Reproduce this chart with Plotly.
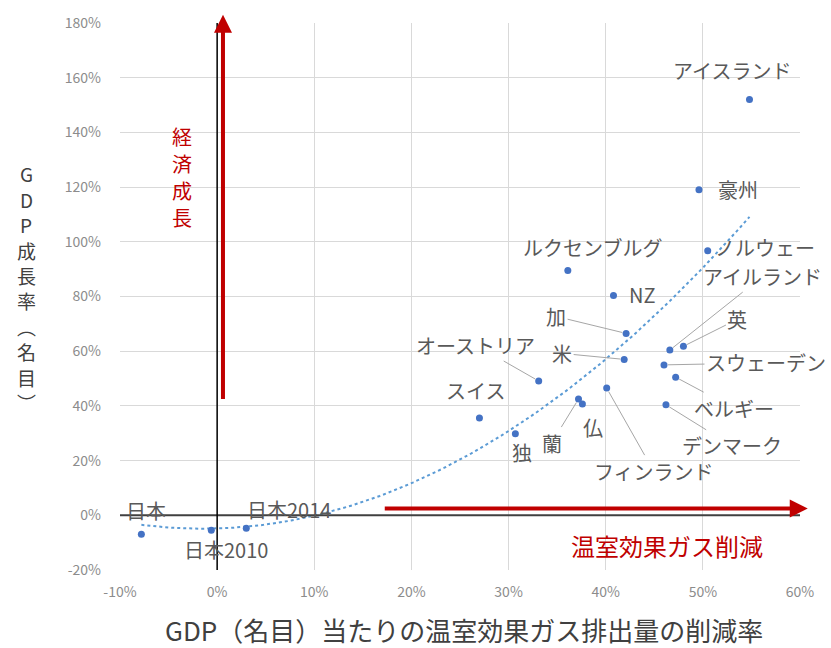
import numpy as np
import plotly.graph_objects as go

# ---- data ----
countries = ["アイスランド", "豪州", "ノルウェー", "ルクセンブルグ", "NZ", "加", "米", "英",
             "アイルランド", "スウェーデン", "ベルギー", "デンマーク", "フィンランド", "蘭", "仏",
             "オーストリア", "スイス", "独", "日本", "日本2010", "日本2014"]
ghg_reduction = [54.8, 49.6, 50.5, 36.1, 40.8, 42.1, 41.9, 48.0,
                 46.6, 46.0, 47.2, 46.2, 40.1, 37.2, 37.6,
                 33.1, 27.0, 30.7, -7.8, -0.6, 3.0]
gdp_growth = [152.0, 119.0, 96.7, 89.5, 80.4, 66.5, 57.0, 61.8,
              60.4, 55.0, 50.5, 40.4, 46.5, 42.5, 40.7,
              49.1, 35.6, 29.8, -6.9, -5.5, -4.7]
x_ticks = [-10, 0, 10, 20, 30, 40, 50, 60]
y_ticks = [-20, 0, 20, 40, 60, 80, 100, 120, 140, 160, 180]
y_title = "GDP成長率︵名目︶"
growth_label = "経済成長"
reduction_label = "温室効果ガス削減"
x_title = "GDP（名目）当たりの温室効果ガス排出量の削減率"

# ---- label placement (pixel offsets of label centre from point) ----
# (dx, dy) with dy positive = downward; leader True = draw leader line
label_pos = {
    "アイスランド": (-17, -29, False), "豪州": (39, 0, False), "ノルウェー": (57, -3, False),
    "ルクセンブルグ": (25, -23, False), "NZ": (29, -1, False), "加": (-70, -17, True),
    "米": (-62, -6, True), "英": (54, -27, True), "アイルランド": (93, -74, True),
    "スウェーデン": (102, -2, True), "ベルギー": (58, 31, True), "デンマーク": (66, 41, True),
    "フィンランド": (47, 83, True), "蘭": (-27, 44, True), "仏": (11, 24, False),
    "オーストリア": (-63, -36, True), "スイス": (-4, -27, False), "独": (7, 19, False),
    "日本": (5, -24, False), "日本2010": (15, 19, False), "日本2014": (43, -19, False),
}

JP = "Noto Sans CJK JP"
RED = "#c00000"
LABEL = "#595959"
LSIZE = 20

fig = go.Figure()

# trend line (2nd-order polynomial fit as in the spreadsheet)
xs = np.array(ghg_reduction)
ys = np.array(gdp_growth)
coef = np.polyfit(xs, ys, 2)
xt = np.linspace(xs.min(), xs.max(), 200)
fig.add_trace(go.Scatter(x=xt, y=np.polyval(coef, xt), mode="lines",
                         line=dict(color="#5b9bd5", width=2, dash="dot"),
                         hoverinfo="skip", showlegend=False))

fig.add_trace(go.Scatter(x=ghg_reduction, y=gdp_growth, mode="markers",
                         marker=dict(color="#4472c4", size=7),
                         text=countries, showlegend=False))

annotations = []
for name, xv, yv in zip(countries, ghg_reduction, gdp_growth):
    dx, dy, leader = label_pos[name]
    if leader:
        annotations.append(dict(x=xv, y=yv, xref="x", yref="y", text=name,
                                showarrow=True, arrowhead=0, arrowwidth=1,
                                arrowcolor="#a6a6a6", ax=dx, ay=dy, standoff=4,
                                font=dict(family=JP, size=LSIZE, color=LABEL)))
    else:
        annotations.append(dict(x=xv, y=yv, xref="x", yref="y", text=name,
                                showarrow=False, xshift=dx, yshift=-dy,
                                font=dict(family=JP, size=LSIZE, color=LABEL)))

# red arrows
annotations.append(dict(x=0.6, y=183, ax=0.6, ay=42, xref="x", yref="y", axref="x", ayref="y",
                        text="", showarrow=True, arrowhead=2, arrowsize=0.9, arrowwidth=4,
                        arrowcolor=RED))
annotations.append(dict(x=60.8, y=2.5, ax=17.1, ay=2.5, xref="x", yref="y", axref="x", ayref="y",
                        text="", showarrow=True, arrowhead=2, arrowsize=0.9, arrowwidth=4,
                        arrowcolor=RED))

# vertical stacked text: "経済成長" (centre ~ (182px, 175px)), spacing 27px
n = len(growth_label)
for i, ch in enumerate(growth_label):
    annotations.append(dict(x=-3.6, y=123.6, xref="x", yref="y", text=ch, showarrow=False,
                            xanchor="center", yanchor="middle",
                            yshift=-(i - (n - 1) / 2) * 27,
                            font=dict(family=JP, size=20, color=RED)))

annotations.append(dict(x=46.3, y=-11, xref="x", yref="y", text=reduction_label,
                        xanchor="center", yanchor="middle",
                        showarrow=False, font=dict(family=JP, size=24, color=RED)))

# y-axis title, stacked vertically (centre ~ (26px, 287px)), spacing 25.4px
n = len(y_title)
for i, ch in enumerate(y_title):
    annotations.append(dict(x=-0.138, y=0.515, xref="paper", yref="paper", text=ch,
                            xanchor="center", yanchor="middle",
                            showarrow=False, yshift=-(i - (n - 1) / 2) * 25.4,
                            font=dict(family=JP, size=19, color="#404040")))

annotations.append(dict(x=0.506, y=-0.109, xref="paper", yref="paper", text=x_title,
                        xanchor="center", yanchor="middle",
                        showarrow=False, font=dict(family=JP, size=26, color="#404040")))

shapes = [
    dict(type="line", xref="x", yref="y", x0=-10, x1=60, y0=0, y1=0,
         line=dict(color="#404040", width=2)),
    dict(type="line", xref="x", yref="y", x0=0, x1=0, y0=-20, y1=180,
         line=dict(color="black", width=1.5)),
]

fig.update_layout(
    width=831, height=648,
    margin=dict(l=120, r=31, t=20, b=78),
    paper_bgcolor="white", plot_bgcolor="white",
    annotations=annotations, shapes=shapes,
    showlegend=False,
)
fig.update_xaxes(range=[-10, 60], tickvals=x_ticks, ticktext=[f"{v}%" for v in x_ticks],
                 showgrid=True, gridcolor="#d9d9d9", gridwidth=1, zeroline=False,
                 showline=False, ticks="", ticklabelstandoff=12,
                 tickfont=dict(family=JP, size=14, color="#8c8c8c"))
fig.update_yaxes(range=[-20, 180], tickvals=y_ticks, ticktext=[f"{v}%" for v in y_ticks],
                 showgrid=True, gridcolor="#d9d9d9", gridwidth=1, zeroline=False,
                 showline=False, ticks="", ticklabelstandoff=18,
                 tickfont=dict(family=JP, size=14, color="#8c8c8c"))

fig.write_html("out.html")
